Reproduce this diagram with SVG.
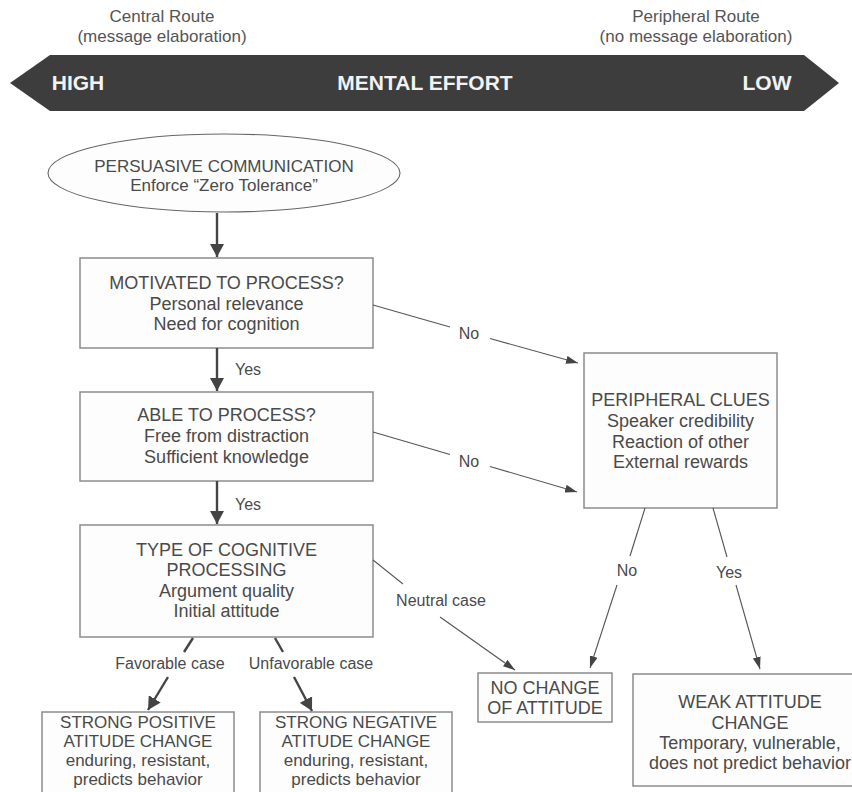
<svg xmlns="http://www.w3.org/2000/svg" width="852" height="792" viewBox="0 0 852 792">
<defs>
<style>
text{font-family:"Liberation Sans",Arial,sans-serif;fill:#4a4a4a;text-anchor:middle}
.hdr{font-size:17px;fill:#555}
.ban{font-size:21px;font-weight:bold;fill:#f2f2f2}
.t17{font-size:17px}
.t18{font-size:18px}
.lbl{font-size:16px}
.box{fill:#fdfdfd;stroke:#8c8c8c;stroke-width:1.5}
.thin{stroke:#555;stroke-width:1.1;fill:none}
.thick{stroke:#444;stroke-width:2.4;fill:none}
</style>
<marker id="ah" viewBox="0 0 12 8" refX="12" refY="4" markerWidth="12" markerHeight="8" markerUnits="userSpaceOnUse" orient="auto">
<path d="M0,0 L12,4 L0,8 Z" fill="#444"/>
</marker>
<marker id="ahb" viewBox="0 0 13 14" refX="13" refY="7" markerWidth="13" markerHeight="14" markerUnits="userSpaceOnUse" orient="auto">
<path d="M0,0 L13,7 L0,14 Z" fill="#444"/>
</marker>
</defs>
<rect width="852" height="792" fill="#ffffff"/>

<g id="header">
<text class="hdr" x="162" y="22">Central Route</text>
<text class="hdr" x="162" y="42">(message elaboration)</text>
<text class="hdr" x="696" y="22">Peripheral Route</text>
<text class="hdr" x="696" y="42">(no message elaboration)</text>
</g>

<g id="effort-banner">
<polygon points="10,83 50,55 804,55 839,83 804,111 50,111" fill="#3d3d3d"/>
<text class="ban" x="78" y="90">HIGH</text>
<text class="ban" x="425" y="90">MENTAL EFFORT</text>
<text class="ban" x="767" y="90">LOW</text>
</g>

<g id="persuasive-communication">
<ellipse cx="224" cy="173" rx="176" ry="39" fill="#fdfdfd" stroke="#666" stroke-width="1.1"/>
<text class="t17" x="224" y="172">PERSUASIVE COMMUNICATION</text>
<text class="t17" x="224" y="191">Enforce “Zero Tolerance”</text>
</g>

<g id="motivated">
<rect class="box" x="80" y="258" width="293" height="90"/>
<text class="t18" x="226.5" y="289">MOTIVATED TO PROCESS?</text>
<text class="t18" x="226.5" y="310">Personal relevance</text>
<text class="t18" x="226.5" y="330">Need for cognition</text>
</g>

<g id="able">
<rect class="box" x="80" y="392" width="293" height="89"/>
<text class="t18" x="226.5" y="421">ABLE TO PROCESS?</text>
<text class="t18" x="226.5" y="442">Free from distraction</text>
<text class="t18" x="226.5" y="463">Sufficient knowledge</text>
</g>

<g id="cognitive-processing">
<rect class="box" x="80" y="525" width="293" height="112"/>
<text class="t18" x="226.5" y="556">TYPE OF COGNITIVE</text>
<text class="t18" x="226.5" y="576">PROCESSING</text>
<text class="t18" x="226.5" y="597">Argument quality</text>
<text class="t18" x="226.5" y="617">Initial attitude</text>
</g>

<g id="peripheral-clues">
<rect class="box" x="584" y="353" width="193" height="155"/>
<text class="t18" x="680.5" y="406">PERIPHERAL CLUES</text>
<text class="t18" x="680.5" y="427">Speaker credibility</text>
<text class="t18" x="680.5" y="448">Reaction of other</text>
<text class="t18" x="680.5" y="468">External rewards</text>
</g>

<g id="no-change">
<rect class="box" x="478" y="673" width="134" height="49"/>
<text class="t18" x="545" y="694">NO CHANGE</text>
<text class="t18" x="545" y="714">OF ATTITUDE</text>
</g>

<g id="weak-change">
<rect class="box" x="633" y="674" width="230" height="112"/>
<text class="t18" x="750" y="708">WEAK ATTITUDE</text>
<text class="t18" x="750" y="729">CHANGE</text>
<text class="t18" x="750" y="749">Temporary, vulnerable,</text>
<text class="t18" x="750" y="769">does not predict behavior</text>
</g>

<g id="strong-positive">
<rect class="box" x="42" y="712" width="192" height="95"/>
<text class="t17" x="138" y="728">STRONG POSITIVE</text>
<text class="t17" x="138" y="747">ATITUDE CHANGE</text>
<text class="t17" x="138" y="766">enduring, resistant,</text>
<text class="t17" x="138" y="785">predicts behavior</text>
</g>

<g id="strong-negative">
<rect class="box" x="260" y="712" width="192" height="95"/>
<text class="t17" x="356" y="728">STRONG NEGATIVE</text>
<text class="t17" x="356" y="747">ATITUDE CHANGE</text>
<text class="t17" x="356" y="766">enduring, resistant,</text>
<text class="t17" x="356" y="785">predicts behavior</text>
</g>

<g id="connectors">
<line class="thick" x1="217" y1="213" x2="217" y2="257" marker-end="url(#ahb)"/>
<line class="thick" x1="217" y1="348" x2="217" y2="391" marker-end="url(#ahb)"/>
<text class="lbl" x="248" y="375">Yes</text>
<line class="thick" x1="217" y1="481" x2="217" y2="524" marker-end="url(#ahb)"/>
<text class="lbl" x="248" y="510">Yes</text>

<line class="thin" x1="373" y1="305" x2="450" y2="327"/>
<text class="lbl" x="469" y="339">No</text>
<line class="thin" x1="490" y1="338.5" x2="578" y2="363" marker-end="url(#ah)"/>

<line class="thin" x1="373" y1="432" x2="450" y2="454.5"/>
<text class="lbl" x="469" y="467">No</text>
<line class="thin" x1="490" y1="466.5" x2="577" y2="492" marker-end="url(#ah)"/>

<line class="thin" x1="373" y1="560" x2="403" y2="584"/>
<text class="lbl" x="441" y="606">Neutral case</text>
<line class="thin" x1="440" y1="617" x2="515" y2="670" marker-end="url(#ah)"/>

<line class="thin" x1="645" y1="508" x2="630" y2="556"/>
<text class="lbl" x="627" y="576">No</text>
<line class="thin" x1="617" y1="585" x2="590" y2="668" marker-end="url(#ah)"/>

<line class="thin" x1="713" y1="508" x2="727" y2="557"/>
<text class="lbl" x="729" y="578">Yes</text>
<line class="thin" x1="736" y1="585" x2="760" y2="669" marker-end="url(#ah)"/>

<line class="thick" x1="193" y1="638" x2="184" y2="652"/>
<text class="lbl" x="170" y="669">Favorable case</text>
<line class="thick" x1="168" y1="677" x2="148" y2="710" marker-end="url(#ahb)"/>

<line class="thick" x1="275" y1="638" x2="283" y2="652"/>
<text class="lbl" x="311" y="669">Unfavorable case</text>
<line class="thick" x1="294" y1="677" x2="312" y2="711" marker-end="url(#ahb)"/>
</g>
</svg>
